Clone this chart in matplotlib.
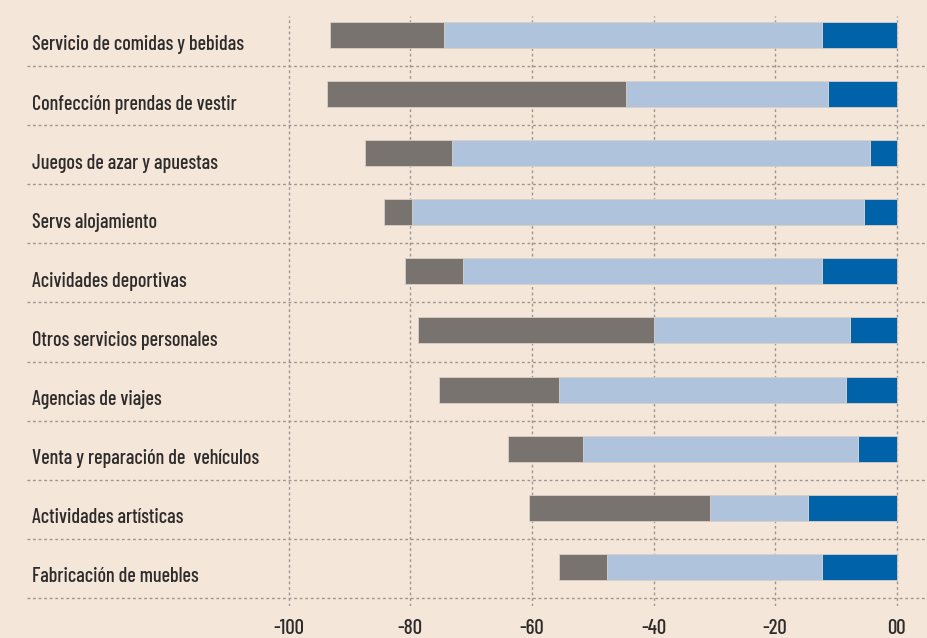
import matplotlib
matplotlib.use("Agg")
import matplotlib.pyplot as plt
from matplotlib import font_manager as fm
import matplotlib.transforms as mtransforms
import numpy as np

categories = [
    "Servicio de comidas y bebidas",
    "Confección prendas de vestir",
    "Juegos de azar y apuestas",
    "Servs alojamiento",
    "Acividades deportivas",
    "Otros servicios personales",
    "Agencias de viajes",
    "Venta y reparación de  vehículos",
    "Actividades artísticas",
    "Fabricación de muebles",
]
dark_vals = [12.3, 11.3, 4.4, 5.4, 12.3, 7.7, 8.3, 6.4, 14.6, 12.3]
light_vals = [62.1, 33.3, 68.7, 74.3, 59.0, 32.2, 47.3, 45.2, 16.1, 35.4]
gray_vals = [18.8, 49.1, 14.4, 4.7, 9.6, 38.8, 19.7, 12.3, 29.7, 7.8]
xticks = [-100, -80, -60, -40, -20, 0]
xtick_labels = ["-100", "-80", "-60", "-40", "-20", "00"]

names = {f.name for f in fm.fontManager.ttflist}
fam = "DejaVu Sans"
for cand in ["Barlow Condensed", "Fira Sans Extra Condensed", "Archivo Narrow",
             "Roboto Condensed", "Liberation Sans Narrow"]:
    if cand in names:
        fam = cand
        break

BG = "#f5e6da"
DARK = "#0062a8"
LIGHT = "#afc3dc"
GRAY = "#78736f"
GRID = "#9b9691"
TEXT = "#2e2c2b"

fig = plt.figure(figsize=(9.27, 6.38), dpi=100)
fig.patch.set_facecolor(BG)
ax = fig.add_axes([27 / 927, 32 / 638, 900 / 927, 590 / 638])
ax.set_facecolor(BG)

y = np.arange(len(categories))
dark = np.array(dark_vals)
light = np.array(light_vals)
gray = np.array(gray_vals)
h = 0.44
ec = "#d9cfc6"
ax.barh(y, -dark, left=0, height=h, color=DARK, edgecolor=ec, linewidth=0.6, zorder=3)
ax.barh(y, -light, left=-dark, height=h, color=LIGHT, edgecolor=ec, linewidth=0.6, zorder=3)
ax.barh(y, -gray, left=-(dark + light), height=h, color=GRAY, edgecolor=ec, linewidth=0.6, zorder=3)

ax.set_xlim(-143.04, 4.98)
ax.set_ylim(9.662, -0.321)

ax.set_xticks(xticks)
ax.set_xticklabels(xtick_labels, fontsize=15, color=TEXT, family=fam, fontweight="medium")
ax.tick_params(axis="x", length=0, pad=9)
ax.set_yticks([])
ax.grid(axis="x", color=GRID, linestyle=(0, (2, 2)), linewidth=1.0, zorder=1)
for s in ax.spines.values():
    s.set_visible(False)

for k in range(len(categories)):
    ax.axhline(k + 0.525, color=GRID, linestyle=(0, (2, 2)), linewidth=1.0, zorder=1)

trans = mtransforms.blended_transform_factory(ax.transAxes, ax.transData)
for k, c in enumerate(categories):
    ax.text(5 / 900, k + 0.262, c, transform=trans, va="baseline", ha="left",
            fontsize=14.5, color=TEXT, family=fam, fontweight="medium")

fig.savefig("out.png", dpi=100, facecolor=BG)
